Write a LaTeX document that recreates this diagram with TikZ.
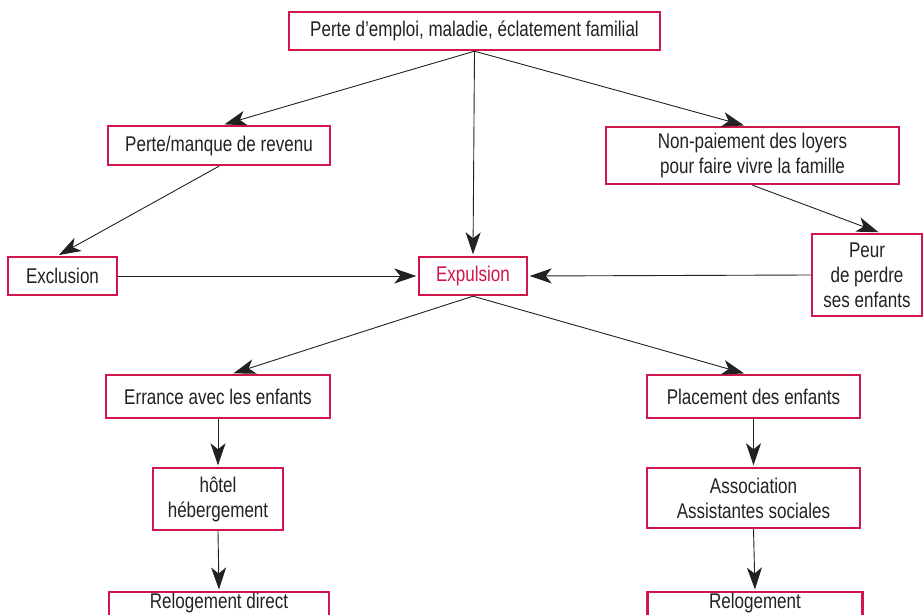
\documentclass[tikz,border=0pt]{standalone}
\usepackage{fontspec}
\setmainfont{Liberation Sans}[FakeStretch=0.8]
\usetikzlibrary{arrows.meta}
\definecolor{boxred}{HTML}{D0164A}
\definecolor{ink}{HTML}{222222}
\tikzset{
  box/.style={draw=boxred, line width=2.4pt, fill=white, text=ink, align=center,
    inner sep=0pt, font=\fontsize{21.3}{25}\selectfont},
  lastbox/.style={box, anchor=north, text height=15pt, text depth=26pt, inner ysep=1pt},
  conn/.style={draw=ink, line width=0.9pt, shorten >=1.5pt, -{Stealth[length=22pt,width=15pt,inset=6pt]}},
}
\begin{document}
\begin{tikzpicture}[x=1pt,y=-1pt]
\useasboundingbox (0,0) rectangle (924,615);
\node[box, minimum width=371pt, minimum height=38pt] (top) at (474.5,31) {Perte d’emploi, maladie, éclatement familial};
\node[box, minimum width=222pt, minimum height=39pt] (perte) at (219,145.5) {Perte/manque de revenu};
\node[box, minimum width=293pt, minimum height=57pt] (nonp) at (752.5,155.5) {Non-paiement des loyers\\pour faire vivre la famille};
\node[box, minimum width=109pt, minimum height=38pt] (excl) at (62.5,276) {Exclusion};
\node[box, minimum width=108pt, minimum height=38pt, text=boxred] (expu) at (473,276) {Expulsion};
\node[box, minimum width=110pt, minimum height=82pt] (peur) at (867,275) {Peur\\de perdre\\ses enfants};
\node[box, minimum width=224pt, minimum height=43pt] (err) at (218,396.5) {Errance avec les enfants};
\node[box, minimum width=213pt, minimum height=43pt] (plac) at (753.5,396.5) {Placement des enfants};
\node[box, minimum width=130pt, minimum height=62pt] (hotel) at (218,499) {hôtel\\hébergement};
\node[box, minimum width=213pt, minimum height=60pt] (assoc) at (753.5,498) {Association\\Assistantes sociales};
\node[lastbox, minimum width=220pt] (rel1) at (219,591) {Relogement direct};
\node[lastbox, minimum width=215pt] (rel2) at (755,591) {Relogement};
\draw[conn] (top.south) -- ([xshift=4pt]perte.north);
\draw[conn] (top.south) -- ([xshift=-7pt]nonp.north);
\draw[conn] (top.south) -- (expu.north);
\draw[conn] (perte.south) -- ([xshift=-5pt]excl.north);
\draw[conn] (nonp.south) -- ([xshift=13pt]peur.north);
\draw[conn] (excl.east) -- (expu.west);
\draw[conn] (peur.west) -- (expu.east);
\draw[conn] (expu.south) -- ([xshift=14pt]err.north);
\draw[conn] (expu.south) -- ([xshift=-8pt]plac.north);
\draw[conn] (err.south) -- (hotel.north);
\draw[conn] (hotel.south) -- (rel1.north);
\draw[conn] (plac.south) -- (assoc.north);
\draw[conn] (assoc.south) -- (rel2.north);
\end{tikzpicture}
\end{document}
